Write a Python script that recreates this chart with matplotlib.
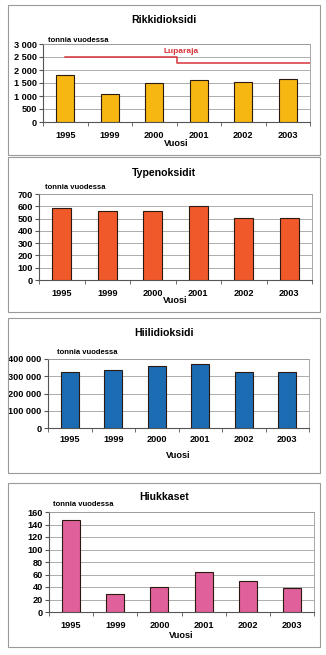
import matplotlib.pyplot as plt
from matplotlib.patches import Rectangle
from matplotlib.ticker import FuncFormatter, FixedLocator

plt.rcParams["font.family"] = ["Liberation Sans", "DejaVu Sans"]
plt.rcParams["font.weight"] = "bold"

years = ["1995", "1999", "2000", "2001", "2002", "2003"]

rikki = [1790, 1060, 1490, 1600, 1530, 1640]
typpi = [585, 558, 558, 605, 508, 508]
hiili = [327000, 337000, 357000, 369000, 325000, 325000]
hiukkaset = [148, 29, 40, 64, 50, 39]

# Luparaja: permit limit for sulphur dioxide, step between 2000 and 2001
luparaja_x = [0, 2.5, 2.5, 5.5]
luparaja_y = [2500, 2500, 2280, 2280]

W, H = 326, 655
fig = plt.figure(figsize=(W / 100, H / 100), dpi=100)
fig.patch.set_facecolor("white")


def fx(px):
    return px / W


def fy(py):
    return 1 - py / H


def space_fmt(v, pos):
    return f"{int(v):,}".replace(",", " ")


def panel(frame, box, title, title_y, unit_x, unit_y, year_y, vuosi_y,
          values, color, ymax, step):
    fl, ft, fr, fb = frame
    fig.patches.append(Rectangle((fx(fl), fy(fb)), fx(fr - fl), (fb - ft) / H,
                                 transform=fig.transFigure, fill=False,
                                 edgecolor="#9a9a9a", linewidth=0.8))
    l, t, r, b = box
    ax = fig.add_axes([fx(l), fy(b), fx(r - l), (b - t) / H])
    ax.bar(range(len(values)), values, width=0.41, color=color,
           edgecolor="#2a1a10", linewidth=0.8, zorder=3)
    ax.set_xlim(-0.5, len(values) - 0.5)
    ax.set_ylim(0, ymax)
    ax.yaxis.set_major_locator(FixedLocator(range(0, ymax + 1, step)))
    ax.yaxis.set_major_formatter(FuncFormatter(space_fmt))
    ax.grid(axis="y", color="#a0a0a0", linewidth=0.6, zorder=0)
    # category labels are placed by hand below, ticks sit between bars
    ax.set_xticks([])
    ax.set_xticks([i + 0.5 for i in range(-1, len(values))], minor=True)
    ax.tick_params(axis="x", which="minor", length=3, color="#555555")
    ax.tick_params(axis="y", length=3, color="#555555", pad=1.5)
    for lab in ax.get_yticklabels():
        lab.set_fontsize(6.6)
        lab.set_fontweight("bold")
    for i, yr in enumerate(years):
        fig.text(fx(l + (r - l) * (i + 0.5) / len(values)), fy(year_y), yr,
                 ha="center", va="center", fontsize=6.6, fontweight="bold")
    for side in ("left", "bottom"):
        ax.spines[side].set_color("#555555")
        ax.spines[side].set_linewidth(0.8)
    for side in ("top", "right"):
        ax.spines[side].set_color("#9a9a9a")
        ax.spines[side].set_linewidth(0.6)
    fig.text(fx((fl + fr) / 2), fy(title_y), title, ha="center", va="center",
             fontsize=7.6, fontweight="bold")
    fig.text(fx(unit_x), fy(unit_y), "tonnia vuodessa", ha="left",
             va="center", fontsize=5.5, fontweight="bold")
    fig.text(fx(l + (r - l) / 2), fy(vuosi_y), "Vuosi", ha="center",
             va="center", fontsize=6.6, fontweight="bold")
    return ax


ax1 = panel((8, 5, 320, 155), (43, 44, 310, 122), "Rikkidioksidi", 20,
            48, 40, 135, 144, rikki, "#f6b712", 3000, 500)
ax1.plot(luparaja_x, luparaja_y, color="#d8323a", linewidth=1.1, zorder=4)
ax1.text(2.6, 2720, "Luparaja", color="#d8323a", fontsize=6,
         fontweight="bold", ha="center", va="center", zorder=5)

panel((8, 157, 320, 312), (39, 194, 312, 280), "Typenoksidit", 173,
      45, 187, 293, 301, typpi, "#f0592a", 700, 100)

panel((8, 318, 320, 473), (48, 359, 309, 428), "Hiilidioksidi", 333,
      57, 352, 440, 455, hiili, "#1b6cb3", 400000, 100000)

panel((8, 483, 320, 647), (49, 512, 314, 612), "Hiukkaset", 497,
      53, 505, 626, 636, hiukkaset, "#e0609c", 160, 20)

fig.savefig("out.png", dpi=100, facecolor="white")
